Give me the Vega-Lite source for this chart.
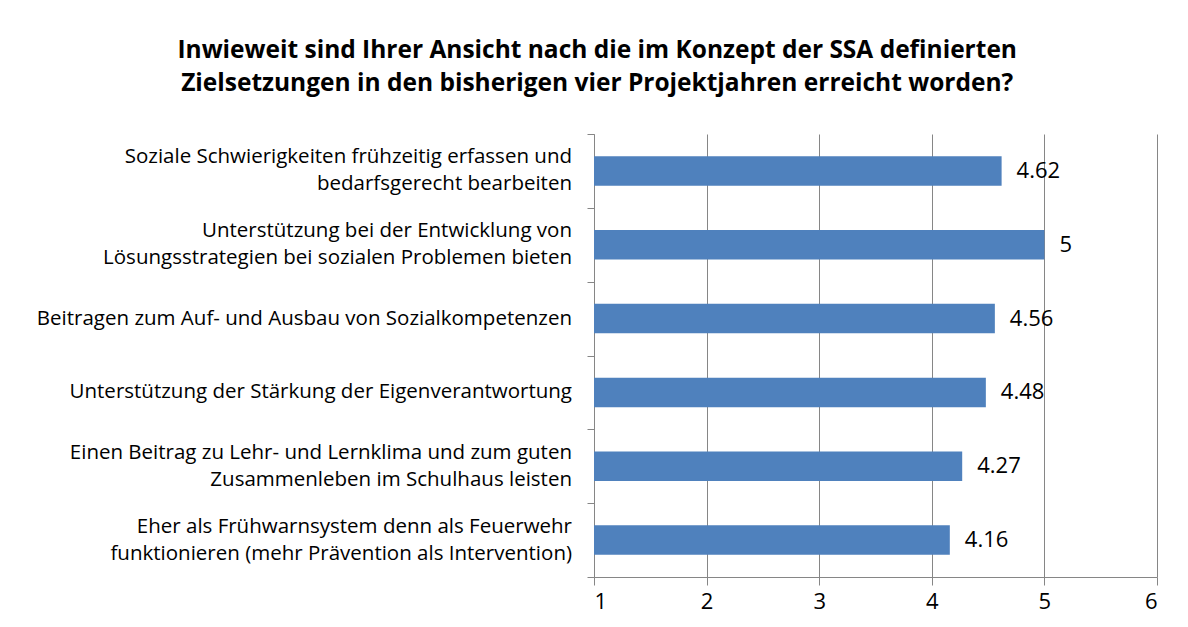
{
  "$schema": "https://vega.github.io/schema/vega-lite/v6.json",
  "width": 563,
  "height": 443,
  "autosize": {"type": "none"},
  "padding": {"left": 594, "top": 134, "right": 31, "bottom": 50},
  "background": "white",
  "title": {
    "text": ["Inwieweit sind Ihrer Ansicht nach die im Konzept der SSA definierten", "Zielsetzungen  in den bisherigen vier Projektjahren erreicht worden?"],
    "frame": "bounds",
    "anchor": "middle",
    "font": "Open Sans",
    "fontSize": 24.5,
    "fontWeight": "bold",
    "lineHeight": 33,
    "offset": 37,
    "color": "black"
  },
  "data": {
    "values": [
      {"ziel": "Soziale Schwierigkeiten frühzeitig erfassen und|bedarfsgerecht bearbeiten", "wert": 4.62},
      {"ziel": "Unterstützung bei der Entwicklung von|Lösungsstrategien bei sozialen Problemen bieten", "wert": 5},
      {"ziel": "Beitragen zum Auf- und Ausbau von Sozialkompetenzen", "wert": 4.56},
      {"ziel": "Unterstützung der Stärkung der Eigenverantwortung", "wert": 4.48},
      {"ziel": "Einen Beitrag zu Lehr- und Lernklima und zum guten|Zusammenleben im Schulhaus leisten", "wert": 4.27},
      {"ziel": "Eher als Frühwarnsystem denn als Feuerwehr|funktionieren (mehr Prävention als Intervention)", "wert": 4.16}
    ]
  },
  "encoding": {
    "y": {
      "field": "ziel",
      "type": "nominal",
      "sort": null,
      "scale": {"paddingInner": 0, "paddingOuter": 0},
      "axis": {
        "title": null,
        "labels": false,
        "tickBand": "extent",
        "tickSize": 7,
        "tickColor": "#868686",
        "domainColor": "#868686",
        "grid": false
      }
    }
  },
  "layer": [
    {
      "mark": {"type": "bar", "color": "#4F81BD", "height": {"band": 0.4}},
      "encoding": {
        "x": {
          "field": "wert",
          "type": "quantitative",
          "scale": {"domain": [1, 6], "nice": false, "zero": false},
          "axis": {
            "title": null,
            "values": [1, 2, 3, 4, 5, 6],
            "format": "d",
            "grid": true,
            "gridColor": "#868686",
            "gridOpacity": 1,
            "tickSize": 8,
            "tickColor": "#868686",
            "domainColor": "#868686",
            "labelFont": "Open Sans",
            "labelFontSize": 22,
            "labelColor": "black",
            "labelPadding": 6
          }
        },
        "x2": {"datum": 1}
      }
    },
    {
      "mark": {"type": "text", "align": "left", "baseline": "middle", "dx": 15, "font": "Open Sans", "fontSize": 22, "color": "black"},
      "encoding": {
        "x": {"field": "wert", "type": "quantitative"},
        "text": {"field": "wert", "type": "quantitative"}
      }
    },
    {
      "transform": [{"filter": "indexof(datum.ziel, '|') < 0"}],
      "mark": {"type": "text", "align": "right", "baseline": "middle", "dx": -22, "font": "Open Sans", "fontSize": 20.5, "color": "black"},
      "encoding": {
        "x": {"datum": 1},
        "text": {"field": "ziel", "type": "nominal"}
      }
    },
    {
      "transform": [{"filter": "indexof(datum.ziel, '|') >= 0"}],
      "mark": {"type": "text", "align": "right", "baseline": "middle", "dx": -22, "dy": -13.5, "lineBreak": "|", "lineHeight": 27, "font": "Open Sans", "fontSize": 20.5, "color": "black"},
      "encoding": {
        "x": {"datum": 1},
        "text": {"field": "ziel", "type": "nominal"}
      }
    }
  ],
  "config": {"view": {"stroke": null}}
}
